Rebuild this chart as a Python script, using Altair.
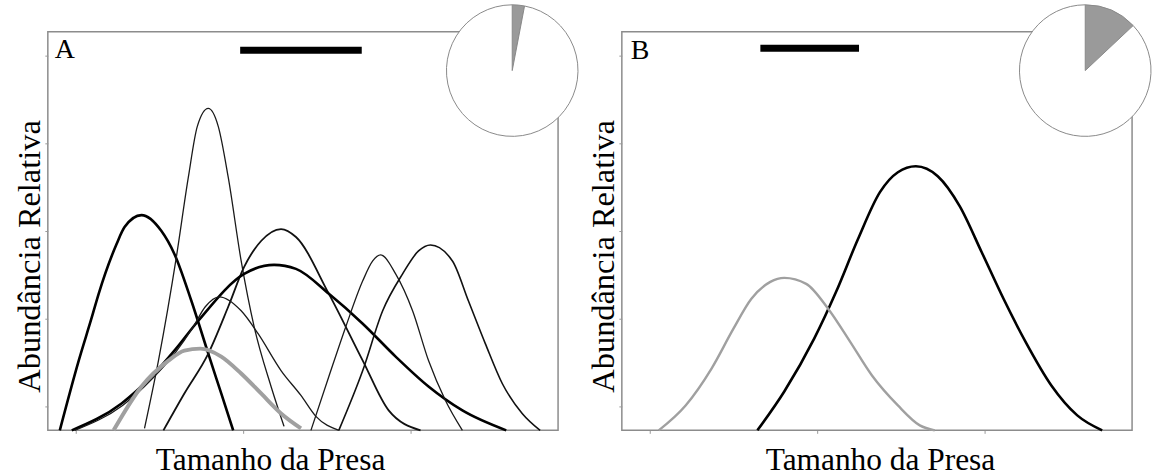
import altair as alt
import pandas as pd

FONT = "Liberation Serif"

# ---------------- data (arbitrary units: prey size 0-512, abundance 0-400) ----------------
# Panel A curves
A1_x = [12, 31, 44, 51, 69, 77, 94, 114, 127, 144, 161, 174, 186]
A1_y = [0, 70, 113, 137, 187, 204, 216, 200, 177, 130, 77, 37, 0]

A2_x = [97, 111, 129, 141, 150, 161, 171, 181, 194, 207, 224, 237]
A2_y = [2, 70, 174, 254, 305, 323, 305, 254, 170, 104, 44, 4]

A3_x = [116, 137, 161, 181, 197, 214, 234, 249, 282, 316, 342, 374]
A3_y = [0, 37, 77, 124, 164, 190, 202, 194, 137, 70, 20, 0]

A4_x = [24, 74, 104, 127, 151, 197, 227, 249, 282, 316, 349, 382, 416, 460]
A4_y = [0, 27, 54, 80, 110, 157, 166, 162, 137, 107, 74, 44, 20, 0]

A5_x = [27, 75, 105, 128, 146, 158, 172, 194, 211, 234, 254, 269, 292]
A5_y = [0, 25, 52, 78, 104, 124, 134, 120, 97, 60, 35, 14, 0]

A6_x = [264, 282, 299, 316, 326, 334, 349, 366, 382, 399, 416]
A6_y = [0, 54, 104, 150, 170, 176, 157, 120, 70, 30, 0]

A7_x = [292, 316, 336, 356, 372, 384, 406, 422, 439, 456, 476, 494]
A7_y = [0, 60, 120, 157, 180, 186, 170, 130, 87, 47, 17, 0]

A8_x = [66, 94, 121, 137, 153, 174, 194, 214, 234, 254]
A8_y = [0, 44, 70, 80, 82, 74, 57, 37, 17, 2]

# Panel B curves
B1_x = [136, 163, 193, 215, 237, 259, 277, 295, 317, 339, 361, 383, 405, 431, 457, 482]
B1_y = [0, 39, 92, 139, 192, 239, 259, 265, 255, 225, 179, 132, 89, 45, 15, 0]

B2_x = [37, 64, 90, 112, 130, 149, 163, 185, 207, 229, 251, 277, 299, 314]
B2_y = [0, 25, 62, 102, 132, 149, 153, 147, 122, 89, 55, 25, 5, 0]

# Horizontal black bars (start, end, level)
barA = [193, 315, 381.5]
barB = [139, 238, 383.5]

# Inset pies: share of grey slice vs. white remainder
pieA_share = [3, 97]
pieB_share = [13, 87]
pie_colors = ["#9a9a9a", "#ffffff"]

# axis tick values
y_ticks = [24, 112, 200, 288, 376]
x_ticks = [28, 196, 364]

# ---------------- styles ----------------
stylesA = [
    ("#000000", 2.6), ("#1a1a1a", 1.3), ("#111111", 1.8), ("#000000", 2.6),
    ("#1a1a1a", 1.3), ("#1a1a1a", 1.3), ("#111111", 1.6), ("#a0a0a0", 4.0),
]
stylesB = [("#000000", 2.6), ("#a0a0a0", 2.4)]

W, H = 512, 400


def panel(curves, styles, bar, label, label_xy, pie_share, pie_xy, x_title_x):
    xs = alt.Scale(domain=[0, W], nice=False, zero=False)
    ys = alt.Scale(domain=[0, H], nice=False, zero=False)
    x_axis = alt.Axis(values=x_ticks, labels=False, tickSize=3, tickColor="#999999",
                      tickWidth=1, domain=False, grid=False, title="Tamanho da Presa",
                      titleFont=FONT, titleFontSize=31.5, titleFontWeight="normal",
                      titleColor="black", titleX=x_title_x, titleY=39,
                      titleBaseline="alphabetic", titleAlign="center")
    y_axis = alt.Axis(values=y_ticks, labels=False, tickSize=3, tickColor="#999999",
                      tickWidth=1, domain=False, grid=False, title="Abundância Relativa",
                      titleFont=FONT, titleFontSize=32.5, titleFontWeight="normal",
                      titleColor="black", titleX=-8, titleY=225, titleAngle=270,
                      titleBaseline="alphabetic", titleAlign="center")
    X = alt.X("x:Q", scale=xs, axis=x_axis)
    Y = alt.Y("y:Q", scale=ys, axis=y_axis)
    layers = []
    for (cx, cy), (col, sw) in zip(curves, styles):
        df = pd.DataFrame({"x": cx, "y": cy})
        layers.append(
            alt.Chart(df).mark_line(color=col, strokeWidth=sw, interpolate="monotone")
            .encode(x=X, y=Y)
        )
    bdf = pd.DataFrame({"x": [bar[0]], "x2": [bar[1]], "y": [bar[2]]})
    layers.append(
        alt.Chart(bdf).mark_rule(color="black", strokeWidth=7).encode(x=X, x2="x2:Q", y=Y)
    )
    tdf = pd.DataFrame({"x": [label_xy[0]], "y": [label_xy[1]], "t": [label]})
    layers.append(
        alt.Chart(tdf).mark_text(align="left", baseline="alphabetic", font=FONT,
                                 fontSize=28, color="black")
        .encode(x=X, y=Y, text="t:N")
    )
    pdf = pd.DataFrame({"share": pie_share, "color": pie_colors, "order": [0, 1],
                        "x": [pie_xy[0]] * 2, "y": [pie_xy[1]] * 2})
    layers.append(
        alt.Chart(pdf).mark_arc(radius=66, stroke="#8a8a8a", strokeWidth=1).encode(
            theta=alt.Theta("share:Q", stack=True),
            color=alt.Color("color:N", scale=None),
            order=alt.Order("order:Q"),
            x=X, y=Y)
    )
    return alt.layer(*layers).properties(width=W, height=H)


chartA = panel([(A1_x, A1_y), (A2_x, A2_y), (A3_x, A3_y), (A4_x, A4_y),
                (A5_x, A5_y), (A6_x, A6_y), (A7_x, A7_y), (A8_x, A8_y)],
               stylesA, barA, "A", (7, 374), pieA_share, (466, 361), 223)
chartB = panel([(B1_x, B1_y), (B2_x, B2_y)], stylesB, barB, "B", (9, 373),
               pieB_share, (465, 361), 259)

chart = alt.hconcat(chartA, chartB, spacing=64, bounds="flush").properties(
    padding={"left": 13, "top": 1, "right": 0, "bottom": 0}
).configure_view(stroke="#8c8c8c", strokeWidth=1.5)

chart.save("out.html", embed_options={"renderer": "svg", "actions": False})
